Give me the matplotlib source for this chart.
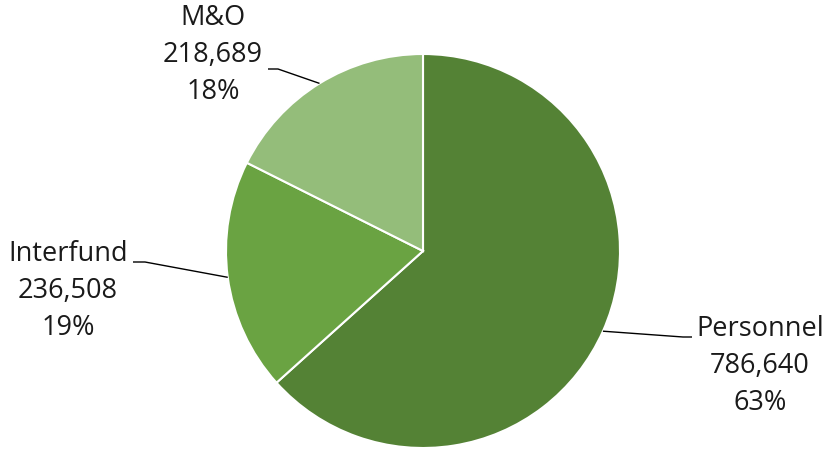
import numpy as np
import matplotlib.pyplot as plt

plt.rcParams['font.family'] = ['Open Sans', 'DejaVu Sans']

categories = ['Personnel', 'Interfund', 'M&O']
amounts = [786640, 236508, 218689]
colors = ['#548235', '#6aa342', '#94bd7a']

# label placement (pixels, origin bottom-left) and leader elbows
label_xy = [(760, 83), (68, 158), (213, 394)]
leader_elbow = [(683, 112), (145, 187), (278, 380)]
leader_end = [(692, 112), (133, 187), (268, 380)]

W, H = 825, 449
fig = plt.figure(figsize=(W / 100, H / 100), dpi=100)
ax = fig.add_axes([0, 0, 1, 1])

cx, cy, r = 423, 198, 197
wedges, _ = ax.pie(amounts, colors=colors, startangle=90, counterclock=False,
                   center=(cx, cy), radius=r, frame=True,
                   wedgeprops=dict(edgecolor='white', linewidth=1.5))
ax.set_xlim(0, W)
ax.set_ylim(0, H)
ax.axis('off')

total = sum(amounts)
for w, name, val, txy, elb, end in zip(wedges, categories, amounts,
                                       label_xy, leader_elbow, leader_end):
    mid = np.deg2rad((w.theta1 + w.theta2) / 2)
    px, py = cx + r * np.cos(mid), cy + r * np.sin(mid)
    ax.plot([px, elb[0], end[0]], [py, elb[1], end[1]], color='black',
            lw=1, solid_capstyle='butt')
    pct = round(val / total * 100)
    ax.text(txy[0], txy[1], f'{name}\n{val:,}\n{pct}%', ha='center',
            va='center', fontsize=19.5, color='#1a1a1a', linespacing=1.43)

fig.savefig('out.png', dpi=100)
